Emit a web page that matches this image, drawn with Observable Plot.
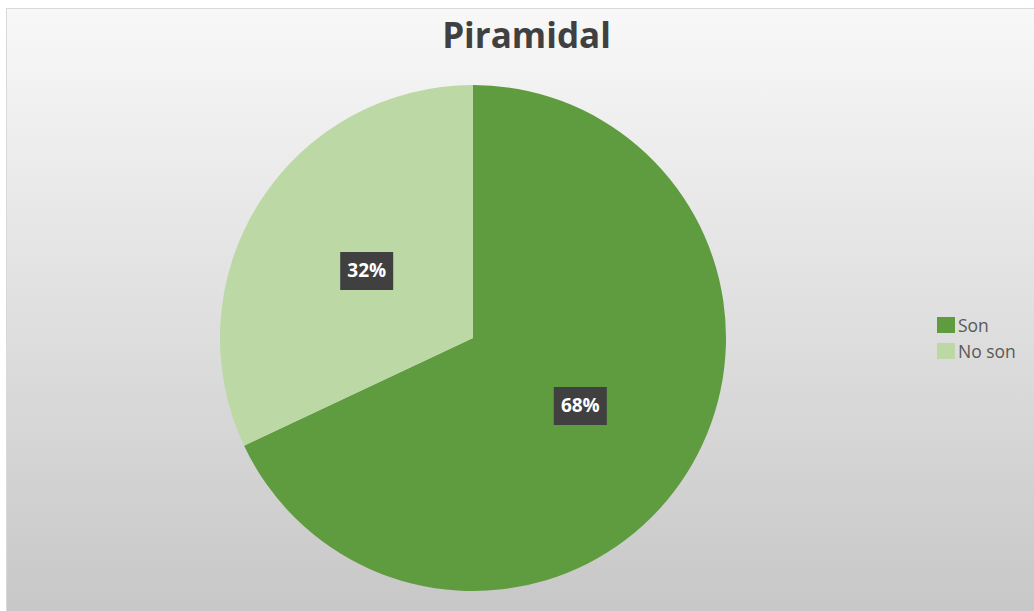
<!DOCTYPE html>
<html><head><meta charset="utf-8">
<script src="https://cdn.jsdelivr.net/npm/d3@7"></script>
<script src="https://cdn.jsdelivr.net/npm/@observablehq/plot@0.6"></script>
<style>
body{margin:0;background:#fff;width:1034px;height:611px;overflow:hidden;position:relative;font-family:"Open Sans",sans-serif}
#frame{position:absolute;left:6px;top:8px;width:1040px;height:620px;border:1px solid #d9d9d9;background:linear-gradient(#f8f8f8,#c6c6c6)}
#chart{position:absolute;left:0;top:0}
#chart svg{background:transparent}
#legend{position:absolute;left:937px;top:312px;font-size:17.5px;color:#595959}
.item{display:flex;align-items:center;height:26px}
.sw{width:18px;height:16px;margin-right:3px}
</style></head><body>
<div id="frame"></div><div id="chart"></div><div id="legend"></div>
<script>
const title = "Piramidal";
const categories = ["Son", "No son"];
const values = [68, 32];
const colors = ["#5f9b3f", "#bcd8a5"];

const rows = categories.map((c, i) => ({category: c, value: values[i]}));
const arcs = d3.pie().sort(null).value(d => d.value)(rows);
const unitArc = d3.arc().innerRadius(0).outerRadius(1);
const labels = arcs.map(a => {
  const [cx, cy] = unitArc.centroid(a);
  return {x: cx, y: -cy, text: Math.round(a.data.value / d3.sum(values) * 100) + "%"};
});

const box = {draw(ctx) { ctx.rect(-26.5, -19, 53, 38); }};

function pieMark(index, scales) {
  const cx = scales.x(0), cy = scales.y(0), r = Math.abs(scales.x(1) - scales.x(0));
  const arc = d3.arc().innerRadius(0).outerRadius(r);
  const g = d3.create("svg:g").attr("transform", `translate(${cx},${cy})`);
  g.selectAll("path").data(arcs).join("path")
    .attr("d", arc)
    .attr("fill", (d, i) => scales.color ? scales.color(d.data.category) : colors[i]);
  return g.node();
}

const plot = Plot.plot({
  width: 1034, height: 611,
  margin: 0,
  style: {background: "transparent", fontFamily: "Open Sans, sans-serif"},
  x: {domain: [-1, 1], range: [220, 726], axis: null},
  y: {domain: [-1, 1], range: [590, 86], axis: null},
  color: {domain: categories, range: colors},
  marks: [
    pieMark,
    Plot.dot(labels, {x: "x", y: "y", symbol: box, r: 1, fill: "#404040"}),
    Plot.text(labels, {x: "x", y: "y", text: "text", fill: "white", fontWeight: "bold", fontSize: 19}),
    Plot.text([title], {frameAnchor: "top", dx: 9, dy: 23, lineAnchor: "top", fontSize: 35, fontWeight: "bold", fill: "#404040"})
  ]
});
document.getElementById("chart").appendChild(plot);

const legend = d3.select("#legend");
categories.forEach((c, i) => {
  const it = legend.append("div").attr("class", "item");
  it.append("div").attr("class", "sw").style("background", colors[i]);
  it.append("span").text(c);
});
</script>
</body></html>
